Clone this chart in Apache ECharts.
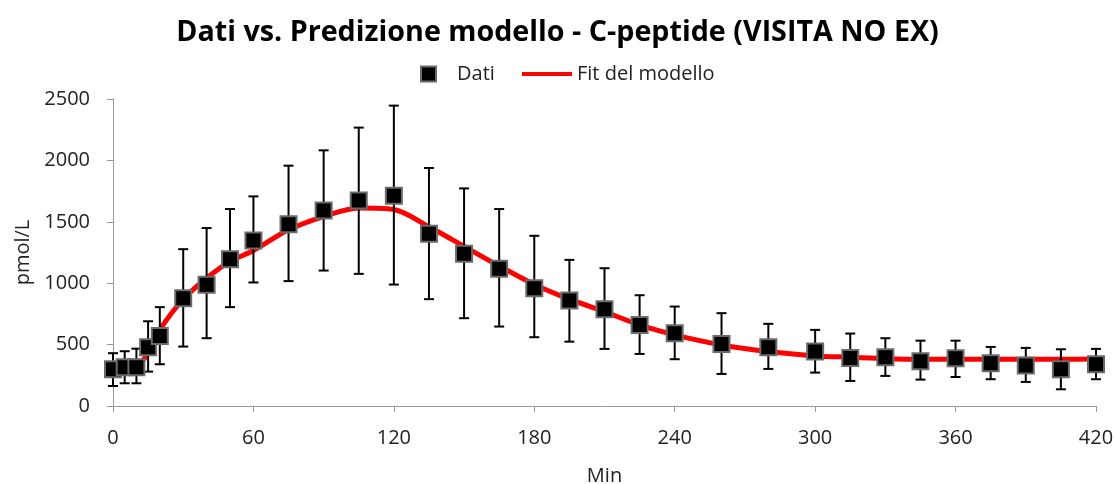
<!DOCTYPE html>
<html>
<head>
<meta charset="utf-8">
<script src="https://cdn.jsdelivr.net/npm/echarts@6/dist/echarts.min.js"></script>
<style>html,body{margin:0;padding:0;background:#fff}#c{width:1115px;height:484px}</style>
</head>
<body>
<div id="c"></div>
<script>
// Observation times (min)
var times = [0,5,10,15,20,30,40,50,60,75,90,105,120,135,150,165,180,195,210,225,240,260,280,300,315,330,345,360,375,390,405,420];
// Measured C-peptide means (pmol/L)
var dati = [300,315,315,478,571,878,987,1196,1348,1481,1593,1674,1712,1402,1239,1117,959,859,788,660,592,505,478,443,391,397,364,389,348,329,299,340];
// Error bar upper / lower ends
var errUpper = [430,446,467,690,805,1277,1449,1604,1707,1957,2082,2267,2446,1938,1772,1604,1386,1190,1122,902,810,756,669,620,590,552,532,532,481,473,462,465];
var errLower = [163,185,185,280,340,484,552,805,1006,1017,1103,1076,989,870,715,647,560,524,465,424,381,261,302,272,204,245,215,236,218,196,136,218];
// Model fit curve
var fitTimes = [0,5,10,15,20,30,40,50,60,75,90,105,120,135,150,165,180,195,210,225,240,260,280,300,315,330,345,360,375,390,405,420];
var fitValues = [300,305,320,430,620,870,1040,1177,1266,1435,1543,1612,1600,1460,1300,1140,990,870,769,660,579,497,443,408,397,385,380,380,380,380,380,382];
// Axis ticks
var xTicks = {min:0, max:420, interval:60};
var yTicks = {min:0, max:2500, interval:500};

var chart = echarts.init(document.getElementById('c'), null, {renderer:'canvas'});
var font = '"Open Sans", sans-serif';
var scatterData = times.map(function(t,i){return [t, dati[i]];});
var errData = times.map(function(t,i){return [t, errLower[i], errUpper[i]];});
var fitData = fitTimes.map(function(t,i){return [t, fitValues[i]];});

chart.setOption({
  animation:false,
  textStyle:{fontFamily:font},
  title:{
    text:'Dati vs. Predizione modello - C-peptide (VISITA NO EX)',
    left:'center', top:13,
    textStyle:{fontFamily:font, fontSize:28.7, fontWeight:'bold', color:'#000'}
  },
  legend:[{
    data:['Dati'], left:420, top:64, padding:0, itemWidth:15, itemHeight:15,
    textStyle:{fontFamily:font, fontSize:20, color:'#222', padding:[0,0,0,16]}
  },{
    data:['Fit del modello'], left:522, top:64, padding:0, itemWidth:50, itemHeight:4, icon:'rect',
    textStyle:{fontFamily:font, fontSize:20, color:'#222'}
  }],
  grid:{left:113, right:19, top:99, bottom:78, containLabel:false, outerBoundsMode:'none'},
  xAxis:{
    type:'value', min:xTicks.min, max:xTicks.max, interval:xTicks.interval,
    name:'Min', nameLocation:'middle', nameGap:60,
    nameTextStyle:{fontFamily:font, fontSize:20, color:'#222'},
    axisLine:{lineStyle:{color:'#999', width:1}},
    axisTick:{show:true, length:6, lineStyle:{color:'#999'}},
    axisLabel:{fontFamily:font, fontSize:20, color:'#222', margin:22},
    splitLine:{show:false}
  },
  yAxis:{
    type:'value', min:yTicks.min, max:yTicks.max, interval:yTicks.interval,
    name:'pmol/L', nameLocation:'middle', nameGap:80,
    nameTextStyle:{fontFamily:font, fontSize:20, color:'#222'},
    axisLine:{show:true, lineStyle:{color:'#999', width:1}},
    axisTick:{show:true, length:6, lineStyle:{color:'#999'}},
    axisLabel:{fontFamily:font, fontSize:20, color:'#222', margin:23,
      formatter:function(v){return String(v);}},
    splitLine:{show:false}
  },
  series:[{
    name:'Fit del modello', type:'line', data:fitData, smooth:0.3,
    showSymbol:false, symbol:'none',
    lineStyle:{color:'#ff0000', width:5},
    itemStyle:{color:'#ff0000'}, z:2
  },{
    name:'errbars', type:'custom', data:errData, z:3,
    renderItem:function(params, api){
      var x = api.value(0);
      var lo = api.coord([x, api.value(1)]);
      var hi = api.coord([x, api.value(2)]);
      var hw = 5;
      var st = {stroke:'#000', lineWidth:2};
      return {type:'group', children:[
        {type:'line', shape:{x1:lo[0], y1:lo[1], x2:hi[0], y2:hi[1]}, style:st},
        {type:'line', shape:{x1:lo[0]-hw, y1:lo[1], x2:lo[0]+hw, y2:lo[1]}, style:st},
        {type:'line', shape:{x1:hi[0]-hw, y1:hi[1], x2:hi[0]+hw, y2:hi[1]}, style:st}
      ]};
    }
  },{
    name:'Dati', type:'scatter', data:scatterData, symbol:'rect', symbolSize:16,
    itemStyle:{color:'#000', borderColor:'#6a6a6a', borderWidth:2, opacity:1}, z:4
  }]
});
</script>
</body>
</html>
